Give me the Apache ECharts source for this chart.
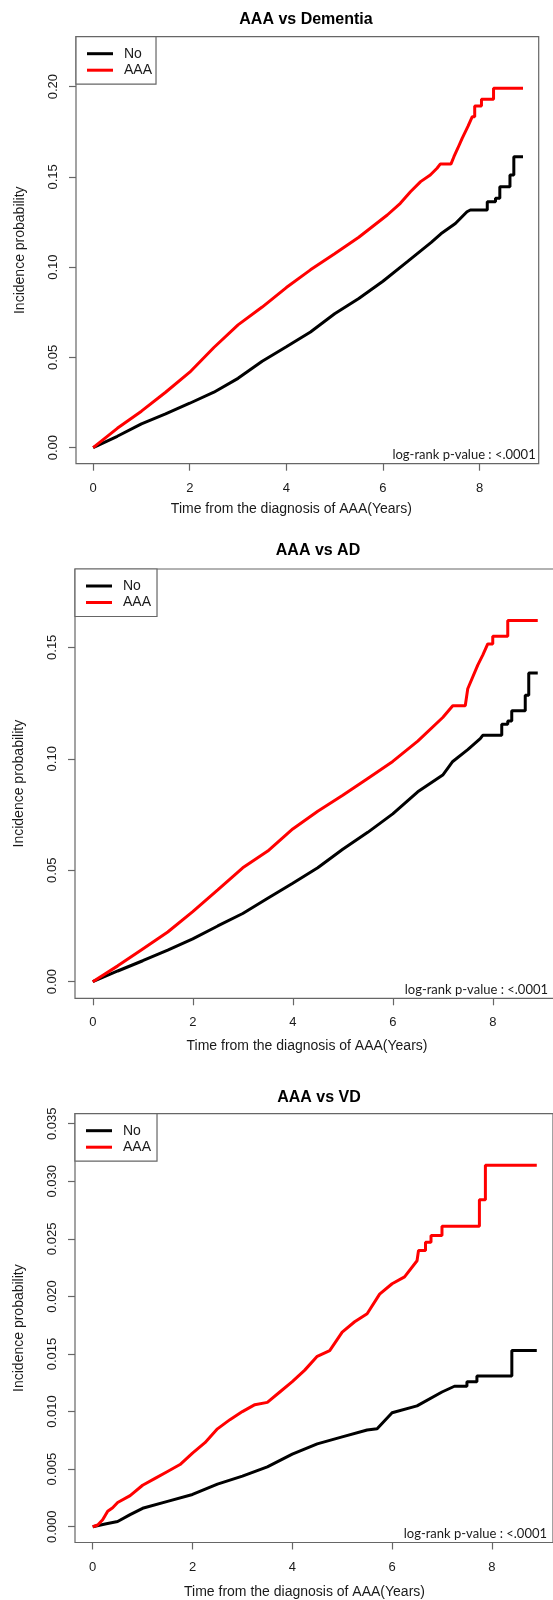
<!DOCTYPE html>
<html>
<head>
<meta charset="utf-8">
<title>AAA vs Dementia, AD, VD</title>
<script src="https://cdn.jsdelivr.net/npm/echarts@6/dist/echarts.min.js"></script>
<style>
html, body { margin: 0; padding: 0; background: #fff; }
#chart { width: 553px; height: 1600px; }
</style>
</head>
<body>
<div id="chart"></div>
<script>
// tick labels
var xTicks = [0, 2, 4, 6, 8];
var demTicks = [0, 0.05, 0.10, 0.15, 0.20];
var adTicks = [0, 0.05, 0.10, 0.15];
var vdTicks = [0, 0.005, 0.010, 0.015, 0.020, 0.025, 0.030, 0.035];

var seriesNames = ['No', 'AAA'];
var panelTitles = ['AAA vs Dementia', 'AAA vs AD', 'AAA vs VD'];
var pValueText = 'log-rank p-value : <.0001';
var xName = 'Time from the diagnosis of AAA(Years)';
var yName = 'Incidence probability';

// AAA vs Dementia
var demTimeNo = [0, 0.5, 1, 1.5, 2, 2.5, 3, 3.5, 4, 4.5, 5, 5.5, 6, 6.5, 7, 7.2, 7.5, 7.74, 7.81, 8.16, 8.16, 8.33, 8.33, 8.42, 8.42, 8.63, 8.63, 8.71, 8.71, 8.9];
var demNo = [0, 0.0063, 0.0132, 0.0187, 0.0246, 0.0307, 0.0384, 0.0479, 0.0559, 0.0641, 0.0742, 0.0826, 0.0922, 0.1029, 0.1137, 0.1185, 0.1242, 0.1307, 0.1317, 0.1317, 0.1363, 0.1363, 0.1382, 0.1382, 0.1446, 0.1446, 0.151, 0.151, 0.1612, 0.1612];
var demTimeAAA = [0, 0.5, 1, 1.5, 2, 2.5, 3, 3.5, 4, 4.5, 5, 5.5, 6.09, 6.36, 6.57, 6.78, 6.98, 7.12, 7.19, 7.41, 7.47, 7.55, 7.64, 7.76, 7.85, 7.9, 7.9, 8.04, 8.04, 8.29, 8.29, 8.9];
var demAAA = [0, 0.0107, 0.0202, 0.0307, 0.0418, 0.0555, 0.068, 0.0779, 0.0887, 0.0985, 0.1074, 0.1166, 0.1289, 0.1354, 0.1418, 0.1474, 0.1511, 0.1548, 0.1572, 0.1572, 0.1612, 0.1659, 0.1714, 0.178, 0.1834, 0.1834, 0.1893, 0.1893, 0.193, 0.193, 0.1991, 0.1991];

// AAA vs AD
var adTimeNo = [0, 0.5, 1, 1.5, 2, 2.5, 3, 3.5, 4, 4.5, 5, 5.5, 6, 6.5, 7, 7.2, 7.5, 7.75, 7.8, 8.18, 8.18, 8.3, 8.3, 8.38, 8.38, 8.65, 8.65, 8.72, 8.72, 8.9];
var adNo = [0, 0.0048, 0.0094, 0.0142, 0.0192, 0.025, 0.0306, 0.0374, 0.0442, 0.0511, 0.0594, 0.067, 0.0753, 0.0852, 0.0927, 0.0988, 0.1041, 0.109, 0.1105, 0.1105, 0.1155, 0.1155, 0.117, 0.117, 0.1215, 0.1215, 0.1285, 0.1285, 0.1385, 0.1385];
var adTimeAAA = [0, 0.5, 1, 1.5, 2, 2.5, 3, 3.5, 4, 4.5, 5, 5.5, 6, 6.5, 7, 7.2, 7.45, 7.5, 7.7, 7.8, 7.9, 8.0, 8.0, 8.3, 8.3, 8.9];
var adAAA = [0, 0.0071, 0.0147, 0.0223, 0.0314, 0.0412, 0.0511, 0.0586, 0.0685, 0.0765, 0.0836, 0.0912, 0.0988, 0.1079, 0.1185, 0.1238, 0.1238, 0.1314, 0.142, 0.1465, 0.1515, 0.1515, 0.155, 0.155, 0.162, 0.162];

// AAA vs VD
var vdTimeNo = [0, 0.25, 0.5, 0.75, 1, 1.5, 2, 2.5, 3, 3.5, 4, 4.5, 5, 5.5, 5.7, 6, 6.5, 7, 7.25, 7.5, 7.5, 7.7, 7.7, 8.4, 8.4, 8.9];
var vdNo = [0, 0.00024, 0.00045, 0.00105, 0.0016, 0.0022, 0.0028, 0.0037, 0.0044, 0.0052, 0.0063, 0.0072, 0.0078, 0.0084, 0.0085, 0.0099, 0.0105, 0.0117, 0.0122, 0.0122, 0.0126, 0.0126, 0.0131, 0.0131, 0.0153, 0.0153];
var vdTimeAAA = [0, 0.1, 0.2, 0.3, 0.4, 0.5, 0.75, 1, 1.25, 1.5, 1.75, 2, 2.25, 2.5, 2.75, 3, 3.25, 3.5, 3.75, 4, 4.25, 4.5, 4.75, 5, 5.25, 5.5, 5.75, 6, 6.25, 6.5, 6.53, 6.67, 6.67, 6.78, 6.78, 7.0, 7.0, 7.75, 7.75, 7.87, 7.87, 8.9];
var vdAAA = [0, 0.00015, 0.0006, 0.00135, 0.00165, 0.0021, 0.0027, 0.0036, 0.0042, 0.0048, 0.0054, 0.0064, 0.0073, 0.0085, 0.0093, 0.0100, 0.0106, 0.0108, 0.0117, 0.0126, 0.0136, 0.0148, 0.0153, 0.0169, 0.0178, 0.0185, 0.0202, 0.0211, 0.0217, 0.0231, 0.024, 0.024, 0.0247, 0.0247, 0.0253, 0.0253, 0.0261, 0.0261, 0.0284, 0.0284, 0.0314, 0.0314];

// 每个面板的布局
var panels = [
    { grid: { left: 76, top: 36.7, width: 462.7, height: 427 }, yMin: -0.0089, yMax: 0.2277, yTicks: demTicks, dec: 2,
      no: [demTimeNo, demNo], aaa: [demTimeAAA, demAAA], titleX: 306, titleY: 12, pX: 535.7, pY: 448.5, xGap: 38, xPad: 32 },
    { grid: { left: 75, top: 569, width: 479, height: 429.3 }, yMin: -0.00745, yMax: 0.18513, yTicks: adTicks, dec: 2,
      no: [adTimeNo, adNo], aaa: [adTimeAAA, adAAA], titleX: 318, titleY: 543, pX: 548, pY: 983.5, xGap: 41, xPad: 15 },
    { grid: { left: 75, top: 1113.7, width: 478, height: 428.8 }, yMin: -0.00137, yMax: 0.03587, yTicks: vdTicks, dec: 3,
      no: [vdTimeNo, vdNo], aaa: [vdTimeAAA, vdAAA], titleX: 319, titleY: 1090, pX: 547, pY: 1527.5, xGap: 43, xPad: 19 }
];

var boxColor = '#666';
var textColor = '#1a1a1a';
var fontMain = '"Liberation Sans", Arial, sans-serif';

function zip(t, v) {
    return t.map(function (x, i) { return [x, v[i]]; });
}

var option = {
    animation: false,
    backgroundColor: '#fff',
    title: [],
    legend: [],
    grid: [],
    xAxis: [],
    yAxis: [],
    series: []
};

panels.forEach(function (p, i) {
    option.grid.push(Object.assign({
        show: true,
        borderColor: boxColor,
        borderWidth: 1.2,
        backgroundColor: 'transparent',
        containLabel: false,
        outerBoundsMode: 'none'
    }, p.grid));

    option.xAxis.push({
        type: 'value',
        gridIndex: i,
        position: 'bottom',
        min: -0.355,
        max: 9.225,
        axisLine: { show: false, onZero: false },
        splitLine: { show: false },
        axisTick: { show: true, inside: false, length: 7, customValues: xTicks, lineStyle: { color: boxColor, width: 1.2 } },
        axisLabel: { customValues: xTicks, margin: 18, color: textColor, fontSize: 13, fontFamily: fontMain },
        name: xName,
        nameLocation: 'middle',
        nameGap: p.xGap,
        nameTextStyle: { color: textColor, fontSize: 14, fontFamily: fontMain, padding: [0, p.xPad, 0, 0] }
    });

    option.yAxis.push({
        type: 'value',
        gridIndex: i,
        position: 'left',
        min: p.yMin,
        max: p.yMax,
        axisLine: { show: false, onZero: false },
        splitLine: { show: false },
        axisTick: { show: true, inside: false, length: 7, customValues: p.yTicks, lineStyle: { color: boxColor, width: 1.2 } },
        axisLabel: {
            customValues: p.yTicks,
            rotate: 90,
            margin: 16,
            color: textColor,
            fontSize: 13,
            fontFamily: fontMain,
            formatter: function (v) { return v.toFixed(p.dec); }
        },
        name: yName,
        nameLocation: 'middle',
        nameGap: 49,
        nameRotate: 90,
        nameTextStyle: { color: textColor, fontSize: 14, fontFamily: fontMain }
    });

    option.series.push({
        name: seriesNames[0],
        type: 'line',
        xAxisIndex: i,
        yAxisIndex: i,
        data: zip(p.no[0], p.no[1]),
        symbol: 'none',
        color: '#000000',
        lineStyle: { color: '#000000', width: 3 }
    });
    option.series.push({
        name: seriesNames[1],
        type: 'line',
        xAxisIndex: i,
        yAxisIndex: i,
        data: zip(p.aaa[0], p.aaa[1]),
        symbol: 'none',
        color: '#ff0000',
        lineStyle: { color: '#ff0000', width: 3 }
    });

    option.legend.push({
        data: seriesNames,
        orient: 'vertical',
        left: p.grid.left,
        top: p.grid.top,
        align: 'left',
        icon: 'rect',
        itemWidth: 26,
        itemHeight: 3,
        itemGap: 2.5,
        padding: [10, i === 0 ? 4 : 6, 7, 11],
        borderColor: boxColor,
        borderWidth: 1.2,
        backgroundColor: '#fff',
        selectedMode: false,
        textStyle: { color: textColor, fontSize: 14, lineHeight: 14, fontFamily: fontMain, padding: [0, 0, 0, 6] }
    });

    option.title.push({
        text: panelTitles[i],
        left: p.titleX,
        top: p.titleY,
        textAlign: 'center',
        padding: 0,
        textStyle: { color: '#000', fontSize: 16, fontWeight: 'bold', fontFamily: fontMain }
    });
    option.title.push({
        text: pValueText,
        left: p.pX,
        top: p.pY,
        textAlign: 'right',
        padding: 0,
        textStyle: { color: textColor, fontSize: 13, fontWeight: 'normal', fontFamily: 'Lato, "Open Sans", sans-serif' }
    });
});

var chart = echarts.init(document.getElementById('chart'));
chart.setOption(option);
</script>
</body>
</html>
